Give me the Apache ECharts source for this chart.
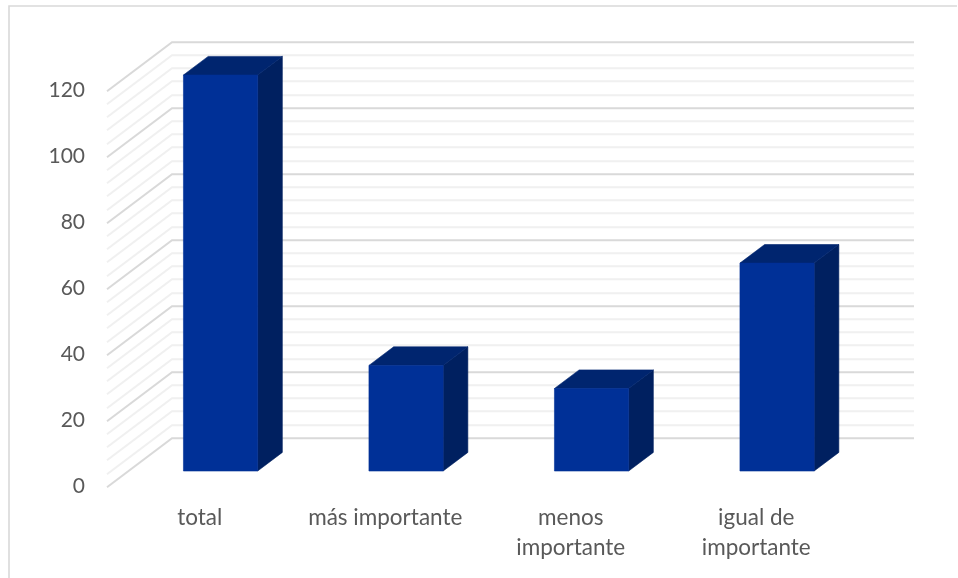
<!DOCTYPE html>
<html>
<head>
<meta charset="utf-8">
<style>html,body{margin:0;padding:0;background:#fff}#chart{width:958px;height:578px}</style>
<script src="https://cdn.jsdelivr.net/npm/echarts@6/dist/echarts.min.js"></script>
</head>
<body>
<div id="chart"></div>
<script>
const categories = ['total', 'más importante', 'menos\nimportante', 'igual de\nimportante'];
const values = [120, 32, 25, 63];
const majorTicks = [0, 20, 40, 60, 80, 100, 120];
const minorTicks = [4, 8, 12, 16, 24, 28, 32, 36, 44, 48, 52, 56, 64, 68, 72, 76, 84, 88, 92, 96, 104, 108, 112, 116];

// Oblique projection of the chart box: how far the back wall sits from the front plane.
const DEPTH_X = 65;
const DEPTH_Y = -49;
const BAR_NEAR = 0.32;
const BAR_FAR = 0.70;
const BAR_WIDTH_RATIO = 0.4;

function wallLine(color, width) {
  return function (params, api) {
    const cs = params.coordSys;
    const p = api.coord([0, api.value(0)]);
    const y = Math.round(p[1]) + 0.2;
    return {
      type: 'polyline',
      silent: true,
      shape: {
        points: [
          [cs.x, y],
          [cs.x + DEPTH_X, y + DEPTH_Y],
          [cs.x + cs.width + DEPTH_X, y + DEPTH_Y]
        ]
      },
      style: { stroke: color, lineWidth: width, fill: null }
    };
  };
}

function renderBar(params, api) {
  const i = api.value(0);
  const top = api.coord([i, api.value(1)]);
  const base = api.coord([i, 0]);
  const w = api.size([1, 0])[0] * BAR_WIDTH_RATIO;
  const nx = DEPTH_X * BAR_NEAR, ny = DEPTH_Y * BAR_NEAR;
  const fx = DEPTH_X * BAR_FAR, fy = DEPTH_Y * BAR_FAR;
  const l = top[0] - w / 2, r = top[0] + w / 2;
  const t = top[1], b = base[1];
  const dx = fx - nx, dy = fy - ny;
  return {
    type: 'group',
    children: [
      {
        type: 'polygon',
        shape: { points: [[r + nx, t + ny], [r + fx, t + fy], [r + fx, b + fy], [r + nx, b + ny]] },
        style: { fill: '#002060', stroke: '#002060', lineWidth: 0.6 }
      },
      {
        type: 'polygon',
        shape: { points: [[l + nx, t + ny], [l + nx + dx, t + ny + dy], [r + fx, t + fy], [r + nx, t + ny]] },
        style: { fill: '#00256f', stroke: '#00256f', lineWidth: 0.6 }
      },
      {
        type: 'rect',
        shape: { x: l + nx, y: t + ny, width: w, height: b - t },
        style: { fill: '#003097', stroke: '#003097', lineWidth: 0.6 }
      }
    ]
  };
}

const chart = echarts.init(document.getElementById('chart'), null, { renderer: 'canvas' });
chart.setOption({
  animation: false,
  backgroundColor: '#ffffff',
  textStyle: { fontFamily: 'Lato' },
  grid: { left: 107, right: 109, top: 90.7, height: 396 },
  graphic: [{
    type: 'polyline',
    silent: true,
    shape: { points: [[9, 578], [9, 6], [957, 6]] },
    style: { stroke: '#d9d9d9', lineWidth: 1.6, fill: null }
  }],
  xAxis: {
    type: 'category',
    data: categories,
    axisLine: { show: false },
    axisTick: { show: false },
    splitLine: { show: false },
    axisLabel: { color: '#595959', fontSize: 22.5, lineHeight: 30, margin: 16, interval: 0, fontFamily: 'Lato' }
  },
  yAxis: {
    type: 'value',
    min: 0,
    max: 120,
    interval: 20,
    axisLine: { show: false },
    axisTick: { show: false },
    splitLine: { show: false },
    axisLabel: { color: '#595959', fontSize: 21, margin: 22, fontFamily: 'Lato' }
  },
  series: [
    { type: 'custom', z: 1, renderItem: wallLine('#f0f0f0', 2), data: minorTicks.map(v => [v]), encode: { y: 0 }, silent: true },
    { type: 'custom', z: 2, renderItem: wallLine('#d9d9d9', 2), data: majorTicks.map(v => [v]), encode: { y: 0 }, silent: true },
    { type: 'custom', z: 3, renderItem: renderBar, data: values.map((v, i) => [i, v]), encode: { x: 0, y: 1 } }
  ]
});
</script>
</body>
</html>
